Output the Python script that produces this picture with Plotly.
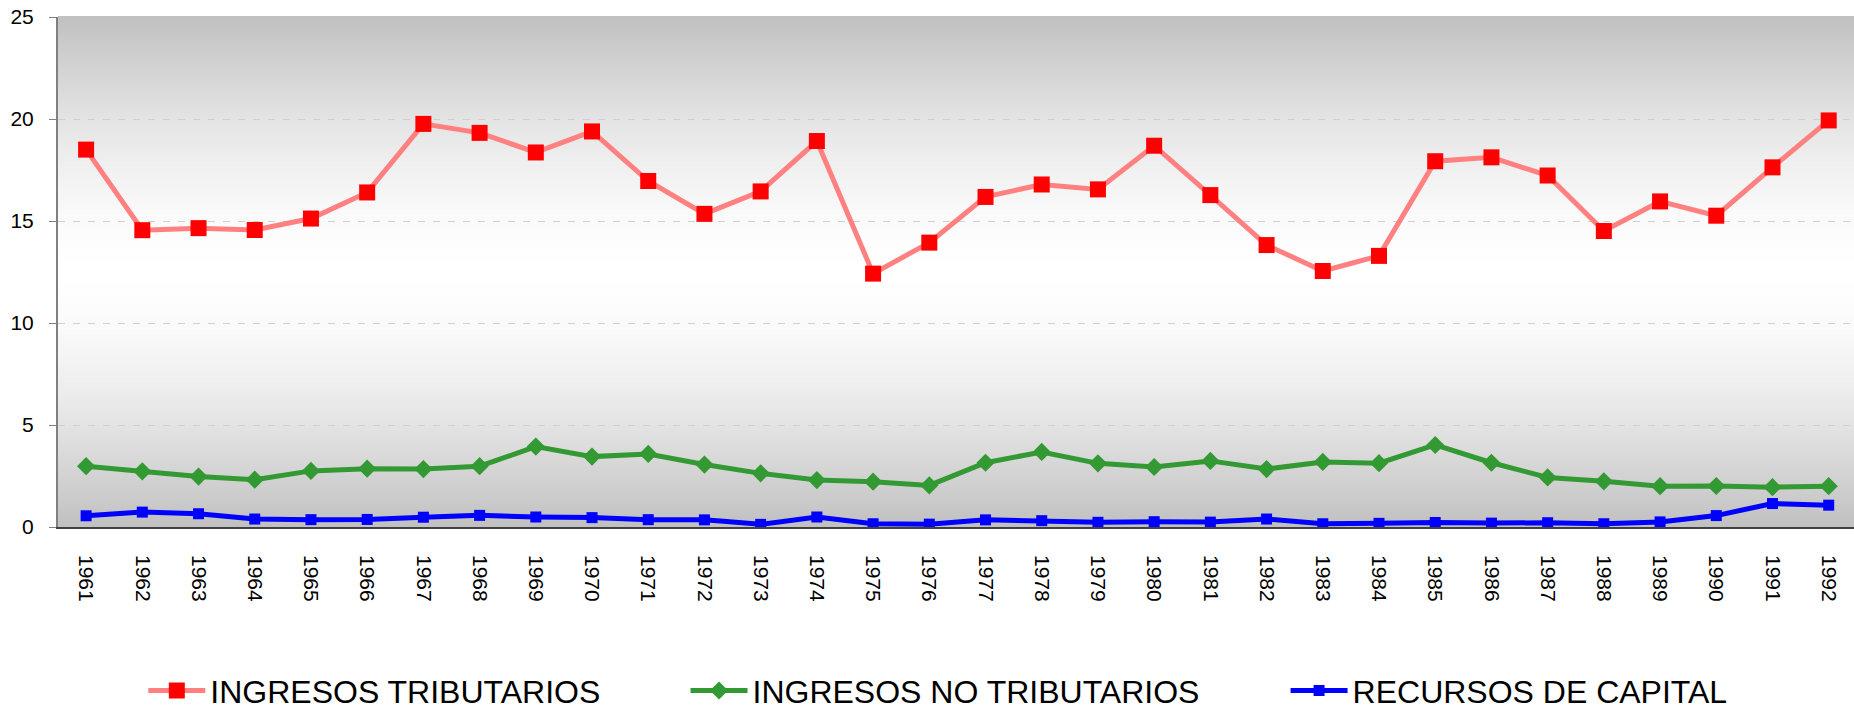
import plotly.graph_objects as go

years = [str(y) for y in range(1961, 1993)]

ingresos_tributarios = [18.5, 14.55, 14.65, 14.56, 15.12, 16.4, 19.76, 19.32, 18.36, 19.39,
                        16.96, 15.35, 16.45, 18.92, 12.42, 13.94, 16.18, 16.79, 16.55, 18.69,
                        16.27, 13.82, 12.55, 13.29, 17.93, 18.12, 17.23, 14.51, 15.96, 15.26,
                        17.63, 19.93]
ingresos_no_tributarios = [2.98, 2.73, 2.47, 2.32, 2.75, 2.86, 2.84, 2.98, 3.94, 3.45,
                           3.58, 3.06, 2.63, 2.3, 2.22, 2.04, 3.15, 3.68, 3.12, 2.94,
                           3.24, 2.84, 3.19, 3.13, 4.02, 3.15, 2.43, 2.24, 2.0, 2.01,
                           1.95, 2.0]
recursos_de_capital = [0.55, 0.73, 0.65, 0.39, 0.36, 0.37, 0.48, 0.57, 0.49, 0.46,
                       0.36, 0.35, 0.13, 0.49, 0.16, 0.14, 0.35, 0.31, 0.23, 0.26,
                       0.24, 0.39, 0.16, 0.18, 0.22, 0.19, 0.21, 0.16, 0.25, 0.56,
                       1.15, 1.07]

FONT = "Liberation Sans, Arial, sans-serif"

fig = go.Figure()
fig.add_trace(go.Scatter(
    x=years, y=ingresos_tributarios, name="INGRESOS TRIBUTARIOS", mode="lines+markers",
    legend="legend",
    line=dict(color="#FF8080", width=5),
    marker=dict(symbol="square", size=16, color="#FF0000", line=dict(color="#FF0000", width=0))))
fig.add_trace(go.Scatter(
    x=years, y=ingresos_no_tributarios, name="INGRESOS NO TRIBUTARIOS", mode="lines+markers",
    legend="legend2",
    line=dict(color="#339933", width=5),
    marker=dict(symbol="diamond", size=14, color="#339933")))
fig.add_trace(go.Scatter(
    x=years, y=recursos_de_capital, name="RECURSOS DE CAPITAL", mode="lines+markers",
    legend="legend3",
    line=dict(color="#0000FF", width=5),
    marker=dict(symbol="square", size=11, color="#0000FF")))

# vertical background gradient: gray at top and bottom, white in the middle
shapes = []
n = 170
for i in range(n):
    y0 = i / n
    y1 = (i + 1) / n
    mid = (y0 + y1) / 2
    t = abs(mid - 0.5) / 0.5
    v = int(round(255 - 63 * t ** 1.6))
    shapes.append(dict(type="rect", xref="paper", yref="paper", x0=0, x1=1, y0=y0, y1=y1 + 0.002,
                       fillcolor=f"rgb({v},{v},{v})", line=dict(width=0), layer="below"))

def leg(xpos):
    return dict(orientation="h", x=xpos, xanchor="left", y=-0.321, yanchor="middle",
                font=dict(size=32, family=FONT), itemwidth=57,
                bgcolor="rgba(0,0,0,0)")

fig.update_layout(
    width=1854, height=711,
    margin=dict(l=58, r=0, t=17, b=184, autoexpand=False),
    paper_bgcolor="white", plot_bgcolor="rgba(0,0,0,0)",
    shapes=shapes,
    font=dict(family=FONT, color="black"),
    showlegend=True,
    legend=leg(0.0475),
    legend2=leg(0.3494),
    legend3=leg(0.6835),
    xaxis=dict(type="category", range=[-0.5, 31.45], tickangle=90,
               tickfont=dict(size=21, family=FONT), showgrid=False,
               showline=True, linecolor="#404040", linewidth=1.5,
               ticks="outside", ticklen=22, tickcolor="rgba(0,0,0,0)", zeroline=False,
               automargin=False),
    yaxis=dict(range=[0, 25], dtick=5, tickfont=dict(size=21, family=FONT),
               showgrid=True, gridcolor="#d0d0d0", griddash="7px,8px", gridwidth=1,
               showline=True, linecolor="#808080", linewidth=2,
               ticks="outside", ticklen=7, tickcolor="#808080", ticklabelstandoff=11,
               zeroline=False, automargin=False),
)

fig.write_html("out.html", config={"displayModeBar": False},
               post_script="document.body.style.margin='0';document.body.style.overflow='hidden';")
